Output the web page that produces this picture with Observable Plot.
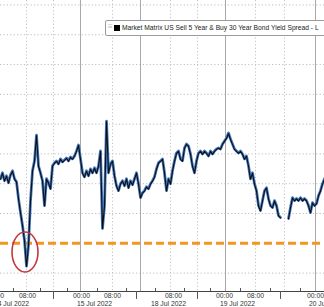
<!DOCTYPE html>
<html><head><meta charset="utf-8">
<script src="https://cdn.jsdelivr.net/npm/d3@7"></script>
<script src="https://cdn.jsdelivr.net/npm/@observablehq/plot@0.6"></script>
<style>
html,body{margin:0;padding:0;background:#fff;}
#wrap{position:relative;width:324px;height:307px;overflow:hidden;}
#legend{position:absolute;left:105px;top:20px;width:240px;height:14px;background:#fff;border:1px solid #9a9a9a;border-radius:2px;font-family:"Liberation Sans",Arial,sans-serif;font-size:6.7px;color:#222;white-space:nowrap;}
#legend .grip{position:absolute;left:2px;top:1px;color:#bbb;font-size:8px;}
#legend .sw{position:absolute;left:8px;top:4px;width:6px;height:6px;background:#000;}
#legend .lbl{position:absolute;left:16px;top:3px;}
</style></head>
<body><div id="wrap"></div>
<script>
// Spread (bp), one observation per tick sample; null = no trading (session gap)
const spread = [3.5,4.1,3.3,3.8,3.1,3.9,4.3,3.5,3.2,1.5,0.1,-1.2,-2.7,-5.3,-3.2,1.3,4.3,5.3,7.9,4.8,
4.1,3.3,0.8,3.5,3.1,2.5,4.8,5.1,5.3,5.0,5.5,5.2,5.4,5.6,5.3,5.7,5.5,5.8,6.3,6.9,
5.5,4.1,3.7,4.3,3.8,4.5,4.1,4.6,4.1,4.8,6.3,-1.5,0.8,9.3,4.1,5.0,5.3,3.8,2.8,2.3,
3.0,3.3,2.8,3.5,2.6,3.3,2.9,3.5,4.1,3.0,1.6,2.1,2.3,2.7,2.5,3.0,3.3,3.7,4.5,5.1,
5.3,5.5,4.1,2.3,3.5,3.0,4.3,5.3,6.1,6.3,5.5,5.3,6.6,7.0,6.8,6.0,4.8,4.1,5.3,6.1,
6.3,6.0,6.3,6.1,5.8,6.3,6.0,6.3,6.5,6.6,6.5,7.0,7.3,7.6,8.1,7.5,7.0,6.5,6.3,6.1,
6.3,6.0,5.5,5.8,4.8,3.5,4.1,3.0,2.3,0.8,0.3,1.3,2.3,2.6,1.5,0.8,0.6,1.3,0.8,-0.2,
-0.4,null,null,null,-0.5,0.6,1.6,1.3,1.5,1.3,1.6,1.3,1.5,1.3,0.8,0.1,1.1,0.8,1.0,1.8,
2.3,3.0,3.5];

const gridY = [-6,-3,0,3,6,9,12,15,18,21];
const threshold = -3;
const dayStarts = [40,70,112.5,157.5];               // session boundaries (solid)
const dottedX = [13,26.5,56,85,98.5,127.5,142];       // intraday gridlines
const timeTickX = [-2.5,13.5,40.5,56,86.5,112,127.5,157.5];
const timeLabels = ["00:00","08:00","00:00","08:00","08:00","00:00","08:00","00:00"];
const dateX = [5.5,47,84,118.5,163];
const dateLabels = ["14 Jul 2022","15 Jul 2022","18 Jul 2022","19 Jul 2022","20 Jul 2022"];
const minorTickX = [6.5,20,33.5,48.5,63,77.5,92,105,120,135,150];
const majorTickX = [26.5,68,98.5,140];
const legendLabel = "Market Matrix US Sell 5 Year & Buy 30 Year Bond Yield Spread - L";

const data = spread.map((v,i)=>({i, v}));
const yDom = [-7.855, 21.45];

const chart = Plot.plot({
  width:324, height:307,
  marginTop:0, marginBottom:16, marginLeft:0, marginRight:0,
  x:{domain:[0,162], axis:null},
  y:{domain:yDom, axis:null},
  style:{background:"#fff", overflow:"hidden"},
  marks:[
    Plot.ruleY(gridY.filter(d=>d!==threshold), {stroke:"#bdbdbd", strokeWidth:1, strokeDasharray:"1.2,2.2"}),
    Plot.ruleX(dottedX, {stroke:"#c4c4c4", strokeWidth:1, strokeDasharray:"1.2,2.2"}),
    Plot.ruleX(dayStarts, {stroke:"#a8a8a8", strokeWidth:1}),
    Plot.ruleY([threshold], {stroke:"#f2961f", strokeWidth:3, strokeDasharray:"8,4"}),
    Plot.line(data, {x:"i", y:"v", stroke:"#4378c0", strokeWidth:2.8, curve:"linear"}),
    Plot.line(data, {x:"i", y:"v", stroke:"#0d0d0d", strokeWidth:1.1, curve:"linear", dy:0.4}),
    Plot.ruleY([yDom[0]], {stroke:"#444", strokeWidth:1}),
    Plot.tickX(minorTickX, {x:d=>d, insetTop:288, stroke:"#555"}),
    Plot.ruleX(majorTickX, {x:d=>d, y1:yDom[0], y2:yDom[0]-0.8, stroke:"#555"}),
    Plot.text(timeLabels, {x:(d,i)=>timeTickX[i], text:d=>d, frameAnchor:"bottom", lineAnchor:"top", dy:1.5,
      fontSize:6.8, fill:"#333", fontFamily:"Liberation Sans, Arial, sans-serif"}),
    Plot.text(dateLabels, {x:(d,i)=>dateX[i], text:d=>d, frameAnchor:"bottom", lineAnchor:"top", dy:9.5,
      fontSize:6.8, fill:"#333", fontFamily:"Liberation Sans, Arial, sans-serif"})
  ]
});

// annotation ellipse around the low, positioned through the plot's own scales
const sx = chart.scale("x"), sy = chart.scale("y");
d3.select(chart).append("ellipse")
  .attr("cx", sx.apply(12.5)).attr("cy", sy.apply(-3.93))
  .attr("rx", 13).attr("ry", 20)
  .attr("fill","none").attr("stroke","#c23840").attr("stroke-width",1.6);

const wrap = document.getElementById("wrap");
wrap.appendChild(chart);
const lg = document.createElement("div");
lg.id = "legend";
lg.innerHTML = '<span class="grip">≡</span><span class="sw"></span><span class="lbl"></span>';
lg.querySelector(".lbl").textContent = legendLabel;
wrap.appendChild(lg);
</script></body></html>
